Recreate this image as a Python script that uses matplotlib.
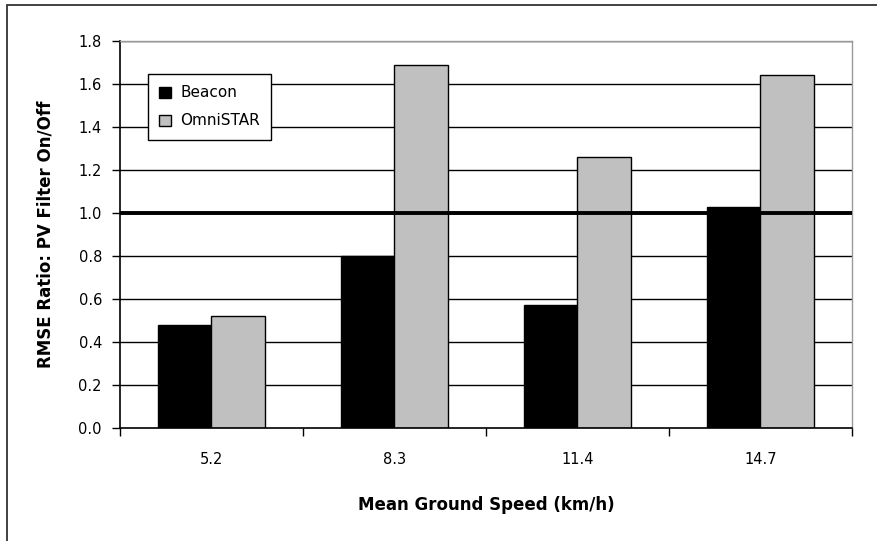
import numpy as np
import matplotlib.pyplot as plt
from matplotlib.patches import Rectangle

speeds = ["5.2", "8.3", "11.4", "14.7"]
beacon = [0.48, 0.80, 0.57, 1.03]
omnistar = [0.52, 1.69, 1.26, 1.64]
yticks = [0.0, 0.2, 0.4, 0.6, 0.8, 1.0, 1.2, 1.4, 1.6, 1.8]

fig = plt.figure(figsize=(8.78, 5.41), dpi=100)
# outer chart frame (right/bottom edges fall outside the image)
fig.patches.append(Rectangle((7/878, -0.05), 1.0, 1 - 5/541 + 0.05,
                             transform=fig.transFigure, fill=False,
                             edgecolor="#333333", linewidth=1.3))

ax = fig.add_axes([120/878, 1 - 428/541, 732/878, 387/541])
x = np.arange(len(speeds))
w = 0.29

for t in yticks[1:]:
    ax.axhline(t, color="black", linewidth=1.0, zorder=1)
ax.bar(x - w/2, beacon, w, color="black", edgecolor="black", linewidth=1.0,
       label="Beacon", zorder=2)
ax.bar(x + w/2, omnistar, w, color="#c0c0c0", edgecolor="black", linewidth=1.0,
       label="OmniSTAR", zorder=2)
ax.axhline(1.0, color="black", linewidth=2.8, zorder=3)

ax.set_xlim(-0.5, len(speeds) - 0.5)
ax.set_ylim(0, 1.8)
ax.set_yticks(yticks)
ax.set_yticklabels([f"{t:.1f}" for t in yticks], fontsize=10.5)
ax.set_xticks(x)
ax.set_xticklabels(speeds, fontsize=10.5)
ax.set_xticks(np.arange(-0.5, len(speeds)), minor=True)
ax.tick_params(axis="x", which="major", length=0, pad=17)
ax.tick_params(axis="x", which="minor", length=6, width=1.0, direction="out")
ax.tick_params(axis="y", length=6, width=1.0, direction="out", pad=7)

for s in ["left", "bottom"]:
    ax.spines[s].set_color("black")
    ax.spines[s].set_linewidth(1.2)
for s in ["top", "right"]:
    ax.spines[s].set_color("#999999")
    ax.spines[s].set_linewidth(1.0)

ax.set_ylabel("RMSE Ratio: PV Filter On/Off", fontsize=12, fontweight="bold",
              labelpad=17)
ax.set_xlabel("Mean Ground Speed (km/h)", fontsize=12, fontweight="bold",
              labelpad=21)

leg = ax.legend(loc="upper left", bbox_to_anchor=(28/732, 1 - 33/387),
                borderaxespad=0, fontsize=11, frameon=True, fancybox=False,
                handlelength=0.75, handleheight=0.75, borderpad=0.75,
                labelspacing=0.85, handletextpad=0.6)
leg.get_frame().set_edgecolor("black")
leg.get_frame().set_linewidth(1.0)
leg.get_frame().set_alpha(1)
leg.set_zorder(5)

fig.savefig("out.png", dpi=100)
